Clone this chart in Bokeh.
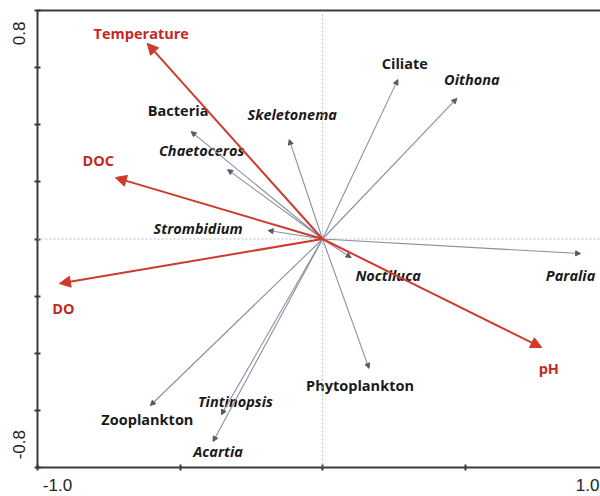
from bokeh.plotting import figure
from bokeh.models import (ColumnDataSource, Arrow, NormalHead, Span, Range1d,
                          FixedTicker, LinearAxis)
from bokeh.core.properties import value
from bokeh.embed import file_html
from bokeh.resources import INLINE

# ---- data: RDA biplot arrow tips ----
env_names = ["Temperature", "DOC", "DO", "pH"]
env_x = [-0.615, -0.727, -0.923, 0.769]
env_y = [0.685, 0.215, -0.156, -0.380]

sp_names = ["Ciliate", "Oithona", "Skeletonema", "Bacteria", "Chaetoceros",
            "Strombidium", "Paralia", "Noctiluca", "Phytoplankton",
            "Zooplankton", "Tintinopsis", "Acartia"]
sp_x = [0.264, 0.471, -0.117, -0.461, -0.333, -0.191, 0.905, 0.100, 0.163,
        -0.604, -0.355, -0.384]
sp_y = [0.558, 0.492, 0.348, 0.376, 0.243, 0.030, -0.051, -0.065, -0.453,
        -0.583, -0.615, -0.709]
sp_italic = [False, True, True, False, True, True, True, True, False,
             False, True, True]

# tick labels
x_tick_labels = ["-1.0", "1.0"]
y_tick_labels = ["-0.8", "0.8"]

# ---- label offsets in screen pixels (style, not data) ----
env_dx = [-6, -17, 4, 7]
env_dy = [-10, -17, 25, 21]
sp_dx = [7, 15, 3, -13, -26, -70, -10, 37, -9, -3, 14, 5]
sp_dy = [-16, -19, -25, -21, -19, -2, 22, 18, 17, 14, -13, 10]

RED = "#cf3a2c"
RED_TXT = "#c4281f"
GRAY = "#8a8ea0"
HEAD = "#55596b"

p = figure(width=600, height=496, output_backend="svg", toolbar_location=None,
           x_range=Range1d(-1.0, 0.975), y_range=Range1d(-0.8, 0.8),
           min_border_left=37, min_border_right=0, min_border_top=10,
           min_border_bottom=29, x_axis_location=None, y_axis_location=None)
p.outline_line_color = None
p.xgrid.visible = False
p.ygrid.visible = False
p.background_fill_color = "white"
p.border_fill_color = "white"

# axes
xaxis = LinearAxis(ticker=FixedTicker(ticks=[-0.93, 0.93],
                                      minor_ticks=[-1.0, -0.5, 0.0, 0.5]))
xaxis.major_label_overrides = {-0.93: x_tick_labels[0], 0.93: x_tick_labels[1]}
yaxis = LinearAxis(ticker=FixedTicker(ticks=[-0.72, 0.72],
                                      minor_ticks=[-0.8, -0.6, -0.4, -0.2, 0.0, 0.2, 0.4, 0.6, 0.8]))
yaxis.major_label_overrides = {-0.72: y_tick_labels[0], 0.72: y_tick_labels[1]}
yaxis.major_label_orientation = "vertical"
for ax, so in ((xaxis, 8), (yaxis, 9)):
    ax.axis_line_color = "#3a3a3a"
    ax.axis_line_width = 2
    ax.major_tick_line_color = None
    ax.major_tick_in = 0
    ax.major_tick_out = 0
    ax.minor_tick_line_color = "#3a3a3a"
    ax.minor_tick_line_width = 2
    ax.minor_tick_in = 3
    ax.minor_tick_out = 3
    ax.major_label_text_font = "Liberation Sans"
    ax.major_label_text_font_size = "17px"
    ax.major_label_text_color = "#222222"
    ax.major_label_standoff = so
p.add_layout(xaxis, "below")
p.add_layout(yaxis, "left")

top = LinearAxis(ticker=FixedTicker(ticks=[]), axis_line_color="#3a3a3a",
                 axis_line_width=2, major_tick_out=0, major_tick_in=0,
                 minor_tick_out=0, minor_tick_in=0, major_label_standoff=0,
                 major_label_text_font_size="0px")
p.add_layout(top, "above")

# zero lines
p.add_layout(Span(location=0, dimension="height", line_color="#bcbcbc",
                  line_dash="2 2", line_width=1))
p.add_layout(Span(location=0, dimension="width", line_color="#bcbcbc",
                  line_dash="2 2", line_width=1))

# species arrows
sp_src = ColumnDataSource(dict(x0=[0.0] * len(sp_x), y0=[0.0] * len(sp_y),
                               x=sp_x, y=sp_y))
p.add_layout(Arrow(end=NormalHead(size=5, fill_color=HEAD, line_color=HEAD),
                   x_start="x0", y_start="y0", x_end="x", y_end="y",
                   source=sp_src, line_color=GRAY, line_width=1.1))

# environment arrows
env_src = ColumnDataSource(dict(x0=[0.0] * len(env_x), y0=[0.0] * len(env_y),
                                x=env_x, y=env_y))
p.add_layout(Arrow(end=NormalHead(size=11, fill_color=RED, line_color=RED),
                   x_start="x0", y_start="y0", x_end="x", y_end="y",
                   source=env_src, line_color=RED, line_width=2))

FONT = value("Open Sans")

# species labels
for italic in (False, True):
    idx = [i for i, it in enumerate(sp_italic) if it == italic]
    src = ColumnDataSource(dict(x=[sp_x[i] for i in idx], y=[sp_y[i] for i in idx],
                                t=[sp_names[i] for i in idx],
                                dx=[sp_dx[i] for i in idx], dy=[sp_dy[i] for i in idx]))
    p.text(x="x", y="y", text="t", x_offset="dx", y_offset="dy", source=src,
           text_font=FONT, text_font_size="14.5px",
           text_font_style="bold italic" if italic else "bold",
           text_color="#1a1a1a", text_align="center", text_baseline="middle")

# environment labels
env_lsrc = ColumnDataSource(dict(x=env_x, y=env_y, t=env_names, dx=env_dx, dy=env_dy))
p.text(x="x", y="y", text="t", x_offset="dx", y_offset="dy", source=env_lsrc,
       text_font=FONT, text_font_size="14.5px", text_font_style="bold",
       text_color=RED_TXT, text_align="center", text_baseline="middle")

open("out.html", "w").write(file_html(p, INLINE))
